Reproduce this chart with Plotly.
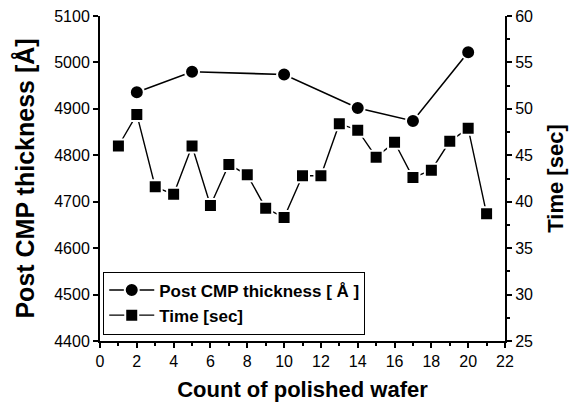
import plotly.graph_objects as go

# Data
thick_x = [2, 5, 10, 14, 17, 20]
thick_y = [4936, 4980, 4974, 4902, 4874, 5022]

time_x = list(range(1, 22))
time_y = [46.0, 49.4, 41.6, 40.8, 46.0, 39.6, 44.0, 42.9, 39.3, 38.3, 42.8,
          42.8, 48.4, 47.7, 44.8, 46.4, 42.6, 43.4, 46.5, 47.9, 38.7]

x_title = "Count of polished wafer"
y_title = "Post CMP thickness [Å]"
y2_title = "Time [sec]"

FONT = "Liberation Sans, Arial, sans-serif"

fig = go.Figure()
fig.add_trace(go.Scatter(
    x=thick_x, y=thick_y, name="Post CMP thickness [ Å ]",
    mode="lines+markers",
    line=dict(color="black", width=1.6),
    marker=dict(symbol="circle", size=14, color="black",
                line=dict(color="white", width=2)),
))
fig.add_trace(go.Scatter(
    x=time_x, y=time_y, name="Time [sec]", yaxis="y2",
    mode="lines+markers",
    line=dict(color="black", width=1.4),
    marker=dict(symbol="square", size=13, color="black",
                line=dict(color="white", width=2)),
))

axis_common = dict(
    showgrid=False, zeroline=False, showline=True, linecolor="black",
    linewidth=2, ticks="outside", ticklen=5, tickwidth=1.5, tickcolor="black",
    tickfont=dict(family=FONT, size=16, color="black"),
    automargin=False,
)

fig.update_layout(
    width=580, height=402,
    margin=dict(l=100, r=75, t=16, b=61),
    paper_bgcolor="white", plot_bgcolor="white",
    font=dict(family=FONT, color="black"),
    showlegend=True,
    legend=dict(
        x=0.008, y=0.02, xanchor="left", yanchor="bottom",
        bgcolor="white", bordercolor="black", borderwidth=1,
        font=dict(family=FONT, size=17, color="black", weight="bold"),
        itemwidth=45, tracegroupgap=4, entrywidth=280,
    ),
    xaxis=dict(
        range=[0, 22], dtick=2, tick0=0,
        minor=dict(dtick=1, ticks="outside", ticklen=3, tickcolor="black"),
        title=dict(text=x_title, font=dict(family=FONT, size=22, weight="bold"),
                   standoff=13),
        **axis_common,
    ),
    yaxis=dict(
        range=[4400, 5100], dtick=100,
        title=dict(text=y_title, font=dict(family=FONT, size=25, weight="bold"),
                   standoff=12),
        **axis_common,
    ),
    yaxis2=dict(
        range=[25, 60], dtick=5, overlaying="y", side="right",
        minor=dict(dtick=2.5, ticks="outside", ticklen=3, tickcolor="black"),
        title=dict(text=y2_title, font=dict(family=FONT, size=22, weight="bold"),
                   standoff=16),
        **axis_common,
    ),
)

fig.write_html("out.html")
